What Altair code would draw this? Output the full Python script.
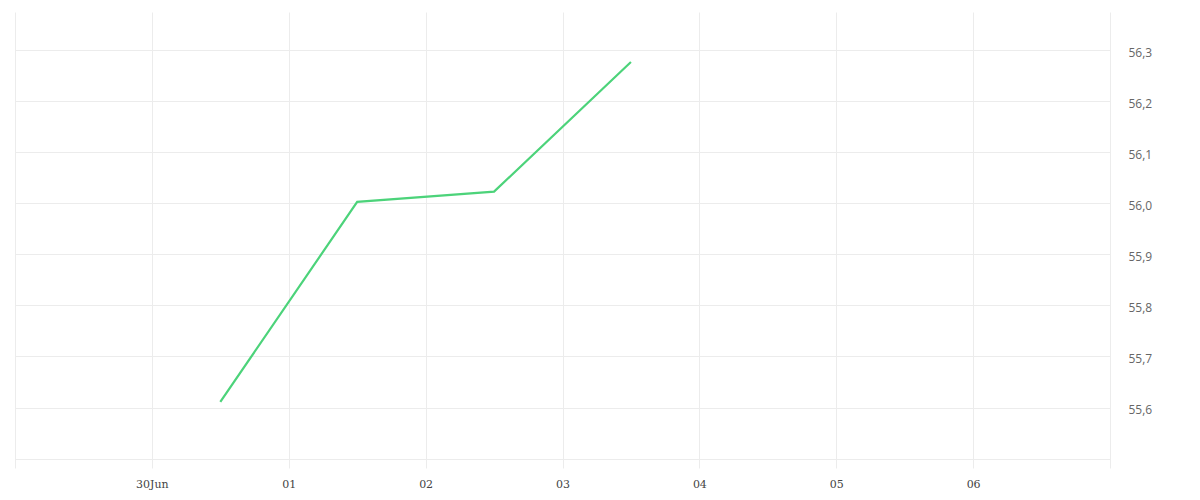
import altair as alt
import pandas as pd

dates = ["2023-06-30T12:00:00Z", "2023-07-01T12:00:00Z", "2023-07-02T12:00:00Z", "2023-07-03T12:00:00Z"]
values = [55.611, 56.003, 56.023, 56.277]

day_ticks = [alt.DateTime(year=2023, month=m, date=d, utc=True)
             for m, d in [(6, 29), (6, 30), (7, 1), (7, 2), (7, 3), (7, 4), (7, 5), (7, 6), (7, 7)]]
y_ticks = [55.5, 55.6, 55.7, 55.8, 55.9, 56.0, 56.1, 56.2, 56.3]

df = pd.DataFrame({"date": dates, "value": values})

x_label_expr = (
    "(utcdate(datum.value) == 29 || utcdate(datum.value) == 7) ? '' : "
    "(utcdate(datum.value) == 30 ? utcFormat(datum.value, '%d%b') : utcFormat(datum.value, '%d'))"
)
y_label_expr = "datum.value < 55.55 ? '' : replace(format(datum.value, '.1f'), '.', ',')"

chart = alt.Chart(df).mark_line(color="#4cd37a", strokeWidth=2.2).encode(
    x=alt.X(
        "date:T",
        scale=alt.Scale(
            type="utc",
            domain=[alt.DateTime(year=2023, month=6, date=29, utc=True),
                    alt.DateTime(year=2023, month=7, date=7, utc=True)],
        ),
        axis=alt.Axis(
            title=None,
            values=day_ticks,
            labelExpr=x_label_expr,
            grid=True,
            gridColor="#ececec",
            gridWidth=1,
            ticks=False,
            domain=False,
            labelFont="DejaVu Serif",
            labelFontSize=11,
            labelColor="#444444",
            labelPadding=10,
            labelOverlap=False,
            labelFlush=False,
        ),
    ),
    y=alt.Y(
        "value:Q",
        scale=alt.Scale(domain=[55.4815, 56.375], nice=False, zero=False),
        axis=alt.Axis(
            title=None,
            orient="right",
            values=y_ticks,
            labelExpr=y_label_expr,
            grid=True,
            gridColor="#ececec",
            gridWidth=1,
            ticks=False,
            domain=False,
            labelFont="Open Sans",
            labelFontSize=12,
            labelColor="#666666",
            labelPadding=18,
            labelOffset=2,
            labelOverlap=False,
            labelFlush=False,
        ),
    ),
).properties(
    width=1095,
    height=456,
    padding={"left": 7, "top": 4, "right": 5, "bottom": 5},
).configure_view(stroke=None)

chart.save("out.html", embed_options={"renderer": "svg", "actions": False})
